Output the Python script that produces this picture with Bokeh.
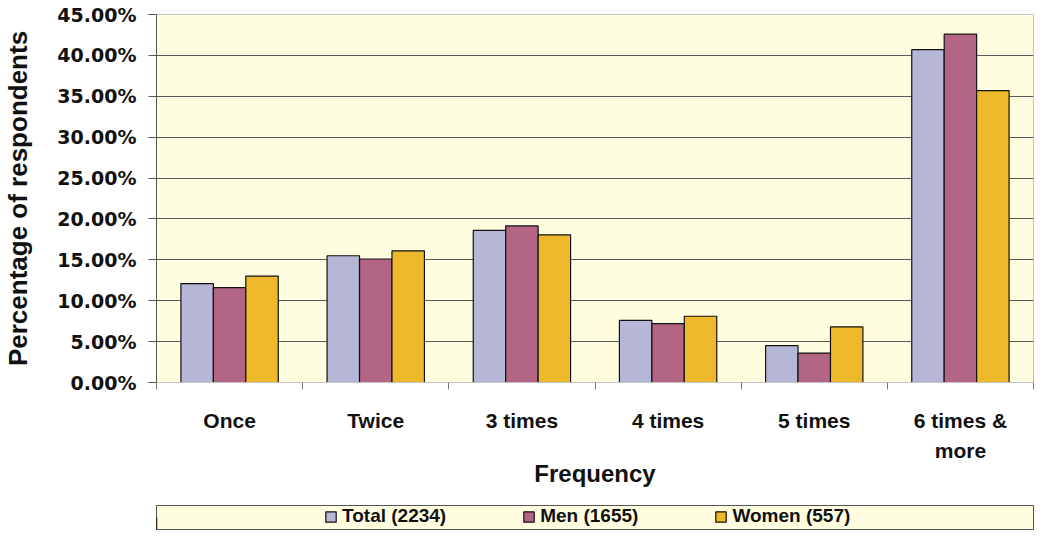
from bokeh.plotting import figure
from bokeh.models import FixedTicker, PrintfTickFormatter, Legend, LegendItem, ColumnDataSource
from bokeh.layouts import column
from bokeh.embed import file_html
from bokeh.resources import INLINE

categories = ["Once", "Twice", "3 times", "4 times", "5 times", "6 times &\nmore"]
series_names = ["Total (2234)", "Men (1655)", "Women (557)"]
total = [12.1, 15.5, 18.6, 7.6, 4.5, 40.7]
men = [11.6, 15.1, 19.15, 7.2, 3.6, 42.6]
women = [13.0, 16.1, 18.05, 8.1, 6.8, 35.7]
y_ticks = [0, 5, 10, 15, 20, 25, 30, 35, 40, 45]

colors = ["#B6B6D6", "#B26684", "#EDB92B"]
BG = "#FFFDE0"
FONT = "Liberation Sans"

p = figure(width=1034, height=503, output_backend="svg", toolbar_location=None,
           x_range=(0, len(categories)), y_range=(0, 45),
           min_border_left=150, min_border_right=1, min_border_top=14, min_border_bottom=121)
p.background_fill_color = BG
p.border_fill_color = "white"
p.outline_line_color = "#C4C4C4"

bar_w = 0.222
offsets = [-bar_w, 0.0, bar_w]
for vals, off, col in zip([total, men, women], offsets, colors):
    src = ColumnDataSource(dict(x=[i + 0.5 + off for i in range(len(categories))], top=vals))
    p.vbar(x="x", top="top", width=bar_w, source=src, fill_color=col,
           line_color="#111111", line_width=1.2)

# y axis
p.yaxis.ticker = FixedTicker(ticks=y_ticks)
p.yaxis.formatter = PrintfTickFormatter(format="%.2f%%")
p.yaxis.major_label_text_font = "DejaVu Sans"
p.yaxis.major_label_text_font_style = "bold"
p.yaxis.major_label_text_font_size = "19px"
p.yaxis.major_label_text_color = "#111111"
p.yaxis.axis_line_color = "#555555"
p.yaxis.major_tick_line_color = "#555555"
p.yaxis.major_tick_out = 8
p.yaxis.major_tick_in = 0
p.yaxis.minor_tick_line_color = None
p.yaxis.major_label_standoff = 12
p.yaxis.axis_label = "Percentage of respondents"
p.yaxis.axis_label_text_font = FONT
p.yaxis.axis_label_text_font_style = "bold"
p.yaxis.axis_label_text_font_size = "26px"
p.yaxis.axis_label_text_color = "#111111"
p.yaxis.axis_label_standoff = 21

# x axis
p.xaxis.ticker = FixedTicker(ticks=[i + 0.5 for i in range(len(categories))],
                             minor_ticks=list(range(len(categories) + 1)))
p.xaxis.major_label_overrides = {i + 0.5: c for i, c in enumerate(categories)}
p.xaxis.major_label_text_font = FONT
p.xaxis.major_label_text_font_style = "bold"
p.xaxis.major_label_text_font_size = "21px"
p.xaxis.major_label_text_color = "#111111"
p.xaxis.major_label_text_line_height = 1.33
p.xaxis.major_tick_line_color = None
p.xaxis.major_tick_out = 0
p.xaxis.major_tick_in = 0
p.xaxis.major_label_standoff = 19
p.xaxis.minor_tick_line_color = "#777777"
p.xaxis.minor_tick_out = 7
p.xaxis.minor_tick_in = 0
p.xaxis.axis_line_color = "#C4C4C4"
p.xaxis.axis_label = "Frequency"
p.xaxis.axis_label_text_font = FONT
p.xaxis.axis_label_text_font_style = "bold"
p.xaxis.axis_label_text_font_size = "24px"
p.xaxis.axis_label_text_color = "#111111"
p.xaxis.axis_label_standoff = -5

p.xgrid.grid_line_color = None
p.ygrid.ticker = FixedTicker(ticks=y_ticks[1:-1])
p.ygrid.grid_line_color = "#5A5A5A"
p.ygrid.grid_line_width = 1

# legend figure
lg = figure(width=1034, height=28, output_backend="svg", toolbar_location=None,
            x_range=(0, 1), y_range=(0, 1), x_axis_location=None, y_axis_location=None,
            min_border_left=146, min_border_right=1, min_border_top=2, min_border_bottom=2)
lg.background_fill_color = BG
lg.border_fill_color = "white"
lg.outline_line_color = "#555555"
lg.xgrid.grid_line_color = None
lg.ygrid.grid_line_color = None
items = []
for name, col in zip(series_names, colors):
    r = lg.vbar(x=[-5], top=[0.5], width=0.1, fill_color=col, line_color="#111111", line_width=1.2)
    items.append(LegendItem(label=name, renderers=[r]))
legend = Legend(items=items, orientation="horizontal", location=(168, 2),
                background_fill_alpha=0, border_line_color=None, padding=0, margin=0,
                glyph_width=13, glyph_height=13, label_standoff=5, spacing=76,
                label_text_font=FONT, label_text_font_style="bold",
                label_text_font_size="19px", label_text_color="#111111",
                label_height=20)
lg.add_layout(legend)

layout = column(p, lg, spacing=0)
open("out.html", "w").write(file_html(layout, INLINE))
